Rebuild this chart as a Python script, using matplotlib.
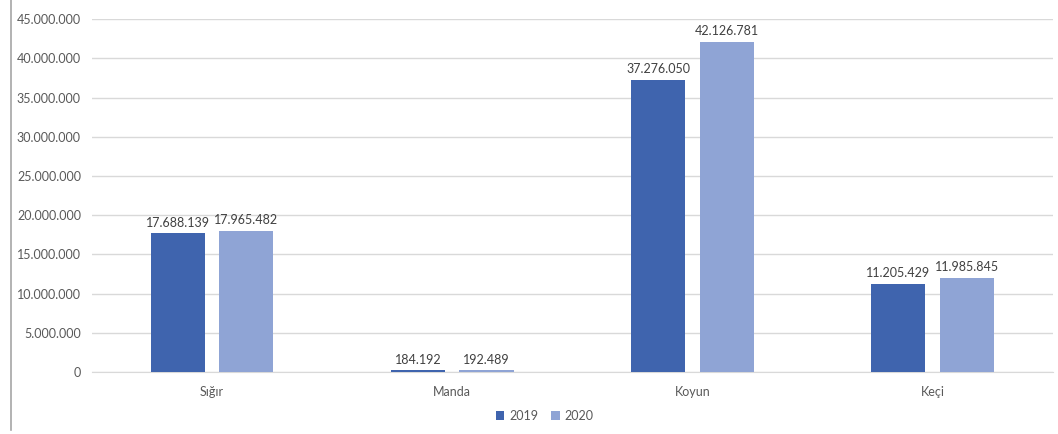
import matplotlib.pyplot as plt
from matplotlib.lines import Line2D
from matplotlib.ticker import FuncFormatter

plt.rcParams['font.family'] = ['Lato', 'DejaVu Sans']

categories = ['Sığır', 'Manda', 'Koyun', 'Keçi']
years = ['2019', '2020']
values_2019 = [17688139, 184192, 37276050, 11205429]
values_2020 = [17965482, 192489, 42126781, 11985845]
y_ticks = [0, 5000000, 10000000, 15000000, 20000000, 25000000, 30000000, 35000000, 40000000, 45000000]

colors = ['#3F64AE', '#8FA4D5']


def tr_fmt(v):
    return f'{int(round(v)):,}'.replace(',', '.')


fig = plt.figure(figsize=(10.58, 4.34), dpi=100)
ax = fig.add_axes([0.087, 0.143, 0.908, 0.813])

x = list(range(len(categories)))
w = 0.225
off = 0.1425
series = [values_2019, values_2020]
for i, vals in enumerate(series):
    pos = [xi + (off if i else -off) for xi in x]
    bars = ax.bar(pos, vals, width=w, color=colors[i], label=years[i], zorder=3)
    for b, v in zip(bars, vals):
        ax.text(b.get_x() + b.get_width() / 2, v + 600000, tr_fmt(v),
                ha='center', va='bottom', fontsize=9, color='#404040')

ax.set_xlim(-0.5, 3.5)
ax.set_ylim(0, 45000000)
ax.set_yticks(y_ticks)
ax.yaxis.set_major_formatter(FuncFormatter(lambda v, p: tr_fmt(v)))
ax.set_xticks(x)
ax.set_xticklabels(categories)
ax.grid(axis='y', color='#D9D9D9', linewidth=1, zorder=0)
for s in ['top', 'right', 'left']:
    ax.spines[s].set_visible(False)
ax.spines['bottom'].set_color('#D9D9D9')
ax.tick_params(axis='both', length=0, labelsize=9, colors='#595959', pad=8)
ax.tick_params(axis='x', pad=10)

ax.legend(loc='upper center', bbox_to_anchor=(0.471, -0.075), ncol=2, frameon=False,
          fontsize=9, labelcolor='#595959', handlelength=0.7, handleheight=0.7,
          handletextpad=0.4, columnspacing=1.0)

fig.add_artist(Line2D([11 / 1058, 11 / 1058], [0.01, 1.0], color='#A6A6A6', linewidth=1.2))

fig.savefig('out.png', dpi=100)
